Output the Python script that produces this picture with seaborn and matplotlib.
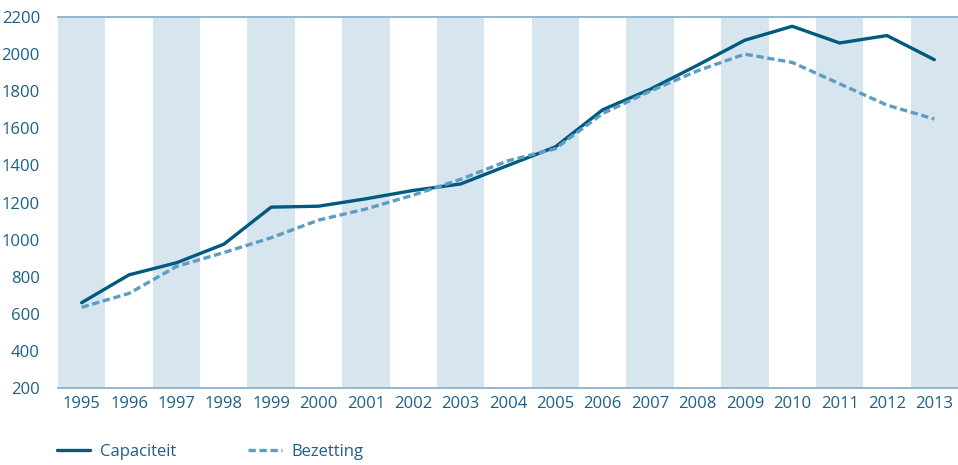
import numpy as np
import pandas as pd
import matplotlib.pyplot as plt
import seaborn as sns
from matplotlib.ticker import FixedLocator

# Gegevens
jaren = list(range(1995, 2014))
capaciteit = [660, 810, 875, 975, 1175, 1180, 1220, 1265, 1300, 1400, 1500,
              1700, 1810, 1940, 2075, 2150, 2060, 2100, 1970]
bezetting = [635, 710, 855, 930, 1010, 1105, 1165, 1240, 1325, 1425, 1490,
             1680, 1800, 1910, 2000, 1955, 1840, 1725, 1650]
reeksen = ['Capaciteit', 'Bezetting']

df = pd.DataFrame({
    'Jaar': jaren * 2,
    'Aantal': capaciteit + bezetting,
    'Reeks': [reeksen[0]] * len(jaren) + [reeksen[1]] * len(jaren),
})

sns.set_style('white')
plt.rcParams['font.family'] = ['Open Sans', 'DejaVu Sans']

tekst = '#1b6088'
as_kleur = '#8db1cb'
band = '#d7e5ef'

fig = plt.figure(figsize=(9.58, 4.65), dpi=100)
ax = fig.add_axes([58 / 958, 77 / 465, 900 / 958, 371 / 465])

# afwisselende banden per jaar
for i, j in enumerate(jaren):
    if i % 2 == 0:
        ax.axvspan(j - 0.5, j + 0.5, color=band, lw=0, zorder=0)

sns.lineplot(data=df, x='Jaar', y='Aantal', hue='Reeks', style='Reeks',
             palette={'Capaciteit': '#005a80', 'Bezetting': '#5d9dc3'},
             dashes={'Capaciteit': '', 'Bezetting': (2.2, 1.1)},
             linewidth=2.4, ax=ax, zorder=3)

ax.set_xlim(jaren[0] - 0.5, jaren[-1] + 0.5)
ax.set_ylim(200, 2200)
ax.set_yticks(range(200, 2201, 200))
ax.set_xticks(jaren)
ax.xaxis.set_minor_locator(FixedLocator([j + 0.5 for j in jaren[:-1]]))
ax.set_xlabel('')
ax.set_ylabel('')

ax.tick_params(axis='y', direction='in', length=9, width=1, color=as_kleur,
               labelcolor=tekst, labelsize=12, pad=13)
ax.tick_params(axis='x', which='major', length=0, labelcolor=tekst,
               labelsize=12, pad=6)
ax.tick_params(axis='x', which='minor', direction='in', length=8, width=1.2,
               color=as_kleur)

for s in ['left', 'right']:
    ax.spines[s].set_visible(False)
for s in ['top', 'bottom']:
    ax.spines[s].set_color(as_kleur)
    ax.spines[s].set_linewidth(1.3)
    ax.spines[s].set_zorder(4)

handles, labels = ax.get_legend_handles_labels()
ax.get_legend().remove()
leg = fig.legend(handles, labels, loc='center left',
                 bbox_to_anchor=(57 / 958, 1 - 452 / 465), ncol=2,
                 frameon=False, fontsize=12, handlelength=2.0,
                 handletextpad=0.6, columnspacing=4.3, borderpad=0,
                 borderaxespad=0, labelcolor=tekst)

fig.savefig('out.png', dpi=100)
